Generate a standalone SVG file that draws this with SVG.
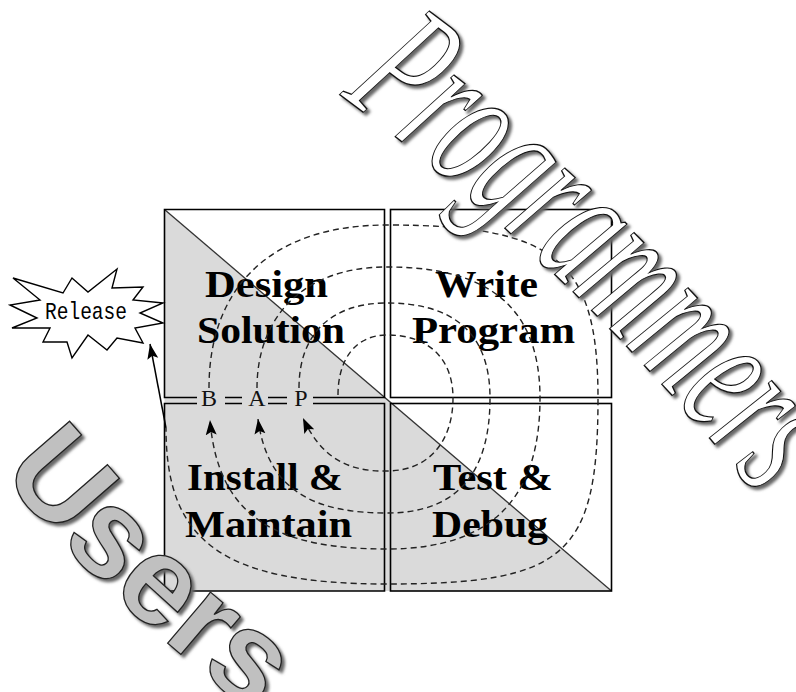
<svg xmlns="http://www.w3.org/2000/svg" width="796" height="692" viewBox="0 0 796 692">
<defs>
<style>
.box{fill:none;stroke:#000;stroke-width:1.6}
.diag{stroke:#333;stroke-width:1.3;fill:none}
.loop{fill:none;stroke:#222;stroke-width:1.4;stroke-dasharray:6 4}
.solid{fill:none;stroke:#000;stroke-width:1.5}
.q{font-family:"Liberation Serif","Times New Roman",serif;font-weight:bold;font-size:38px;fill:#000}
.bap{font-family:"Liberation Serif","Times New Roman",serif;font-size:24px;fill:#111;text-anchor:middle}
.rel{font-family:"Liberation Mono","Courier New",monospace;font-size:24px;fill:#000}
.star{fill:#fff;stroke:#000;stroke-width:1.4;stroke-linejoin:miter}
.pOut{fill:#fff;stroke:#111;stroke-width:1.4}
.pSh{fill:#666;stroke:#666;stroke-width:1.6}
.uOut{fill:#c0c0c0;stroke:#222;stroke-width:1.3}
.uSh{fill:#666;stroke:#666;stroke-width:1.3}
</style>
<marker id="ah" markerUnits="userSpaceOnUse" markerWidth="18" markerHeight="12" refX="15" refY="6" orient="auto"><path d="M0,0.5 L15,6 L0,11.5 L3,6 z" fill="#000"/></marker>
<filter id="soft" x="-5%" y="-5%" width="110%" height="110%"><feGaussianBlur stdDeviation="1.4"/></filter>
<path id="progPath" d="M0,0 Q500,-40 1040,0"/>
<path id="usersPath" d="M0,472 Q95,592 265,722"/>
<g id="progText"><g transform="translate(340,95) rotate(44) scale(0.57,1)"><text font-family="Liberation Serif, Times New Roman, serif" font-style="italic" font-size="185" vector-effect="non-scaling-stroke"><textPath href="#progPath">Programmers</textPath></text></g></g>
<g id="usersText"><text font-family="Liberation Sans, Arial, sans-serif" font-weight="bold" font-size="126"><textPath href="#usersPath">Users</textPath></text></g>
</defs>
<rect width="796" height="692" fill="#fff"/>

<g id="grid">
<polygon points="164.5,209.5 611.5,591 164.5,591" fill="#dadada"/>
<line class="diag" x1="164.5" y1="209.5" x2="611.5" y2="591"/>
</g>

<g id="design">
<path class="box" d="M313,397.5 H384.5 V209.5 H164.5 V397.5 H197 M225,397.5 H242 M268,397.5 H287"/>
<text class="q" x="205" y="297" textLength="123" lengthAdjust="spacingAndGlyphs">Design</text>
<text class="q" x="197" y="343" textLength="148" lengthAdjust="spacingAndGlyphs">Solution</text>
</g>
<g id="write">
<rect class="box" x="390.5" y="209.5" width="221" height="188"/>
<text class="q" x="435" y="297" textLength="103" lengthAdjust="spacingAndGlyphs">Write</text>
<text class="q" x="412" y="343" textLength="163" lengthAdjust="spacingAndGlyphs">Program</text>
</g>
<g id="install">
<path class="box" d="M313,403.5 H384.5 V591 H164.5 V403.5 H197 M225,403.5 H242 M268,403.5 H287"/>
<text class="q" x="187" y="490" textLength="156" lengthAdjust="spacingAndGlyphs">Install &amp;</text>
<text class="q" x="185" y="537" textLength="167" lengthAdjust="spacingAndGlyphs">Maintain</text>
</g>
<g id="test">
<rect class="box" x="390.5" y="403.5" width="221" height="187.5"/>
<text class="q" x="433" y="490" textLength="120" lengthAdjust="spacingAndGlyphs">Test &amp;</text>
<text class="q" x="432" y="537" textLength="116" lengthAdjust="spacingAndGlyphs">Debug</text>
</g>
<g id="bap">
<text class="bap" x="209" y="406">B</text>
<text class="bap" x="257" y="406">A</text>
<text class="bap" x="301" y="406">P</text>
</g>

<g id="connectors">
<path class="loop" marker-end="url(#ah)" d="M338,395 C338,360 355,335 387,335 C430,335 453,360 453,398 C453,440 430,471 387,471 C345,472 320,455 303,418"/>
<path class="loop" marker-end="url(#ah)" d="M299,388 C299,335 330,303 387,303 C450,303 490,330 490,398 C490,470 460,513 387,513 C320,513 268,495 258,419"/>
<path class="loop" marker-end="url(#ah)" d="M257,388 C257,320 300,267 387,267 C480,267 540,300 540,398 C540,490 500,549 387,549 C280,549 218,520 210,420"/>
<path class="loop" d="M209,388 C209,286 272,225 387,225 C556,225 598,260 598,398 C598,556 566,584 387,584 C220,584 166,540 166,428"/>
<path class="solid" marker-end="url(#ah)" d="M166,428 L150,344"/>
</g>

<g id="release">
<polygon class="star" points="13,278 63,293 72,278 88,292 117,269 112,288 143,287 133,300 163,303 140,313 163,323 135,328 143,343 117,338 107,350 88,335 72,358 67,342 43,342 50,328 12,328 37,318 10,305 40,300"/>
<text class="rel" x="45" y="319" textLength="82" lengthAdjust="spacingAndGlyphs">Release</text>
</g>

<g id="programmers">
<use href="#progText" class="pSh" transform="translate(3,3)" filter="url(#soft)"/>
<use href="#progText" class="pOut"/>
</g>
<g id="users">
<use href="#usersText" class="uSh" transform="translate(3,3)" filter="url(#soft)"/>
<use href="#usersText" class="uOut"/>
</g>
</svg>
